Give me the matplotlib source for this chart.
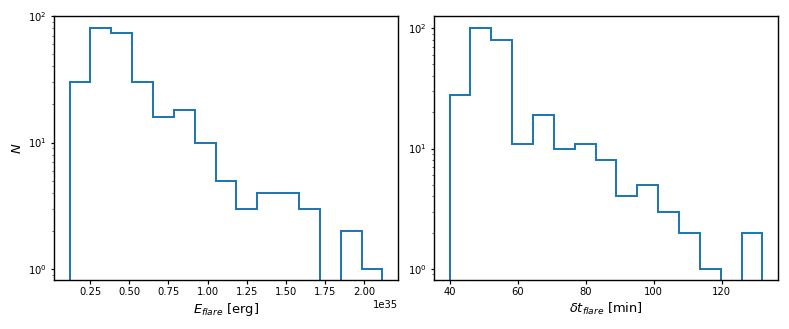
import matplotlib
matplotlib.use("Agg")
import matplotlib.pyplot as plt
import numpy as np

# flare energy histogram (erg)
e_edges = np.linspace(0.12e35, 2.115e35, 16)
e_counts = [30, 80, 74, 30, 16, 18, 10, 5, 3, 4, 4, 3, 0, 2, 1]

# flare duration histogram (min)
t_edges = np.linspace(40, 132, 16)
t_counts = [28, 100, 80, 11, 19, 10, 11, 8, 4, 5, 3, 2, 1, 0, 2]

# rendered small: 789x329 px at 72 dpi
fig = plt.figure(figsize=(789/72, 329/72), dpi=72)
ax1 = fig.add_axes([54/789, 49/329, 344/789, 264/329])
ax2 = fig.add_axes([434/789, 49/329, 344/789, 264/329])

ax1.hist(e_edges[:-1], bins=e_edges, weights=e_counts, histtype='step',
         log=True, lw=2, color='#1f77b4')
ax1.set_ylim(0.82, 100)
ax1.set_xlabel(r'$E_{flare}$ [erg]', fontsize=13)
ax1.set_ylabel(r'$N$', fontsize=13)

ax2.hist(t_edges[:-1], bins=t_edges, weights=t_counts, histtype='step',
         log=True, lw=2, color='#1f77b4')
ax2.set_ylim(0.81, 126)
ax2.set_xlabel(r'$\delta t_{flare}$ [min]', fontsize=13)

for ax in (ax1, ax2):
    for s in ax.spines.values():
        s.set_linewidth(1.4)
    ax.tick_params(width=1.2)

fig.savefig('out.png', dpi=72)
